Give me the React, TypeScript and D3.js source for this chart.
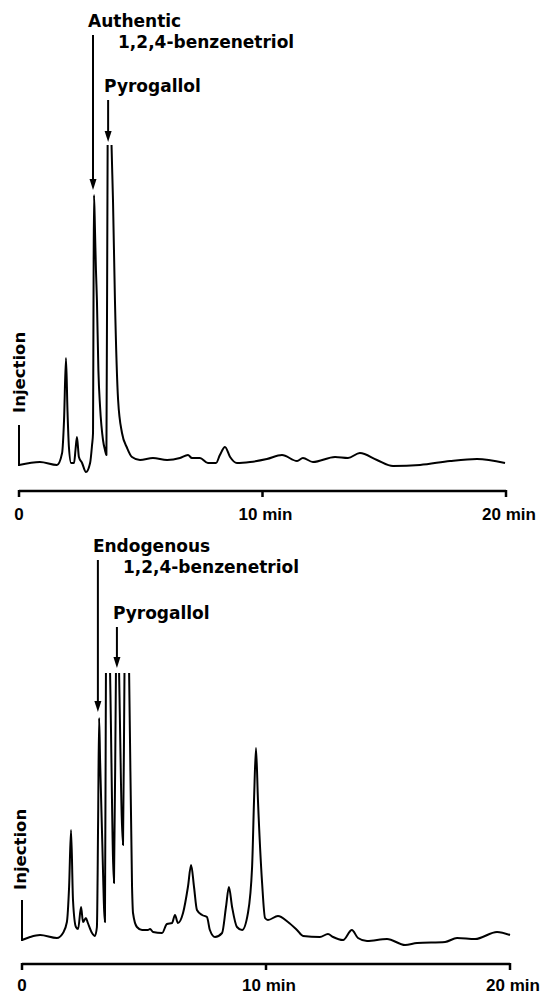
import React from 'react';
import * as d3 from 'd3';

// Retention time (min) and detector response (arbitrary units) — authentic standards
const TOP_TIME = [0, 0.86, 1.56, 1.77, 1.85, 1.93, 1.99, 2.05, 2.14, 2.26, 2.32, 2.38, 2.46, 2.59, 2.75, 2.92, 3.0, 3.04, 3.06, 3.08, 3.12, 3.16, 3.2, 3.26, 3.33, 3.45, 3.53, 3.59, 3.64, 3.72, 3.8, 3.86, 3.94, 4.07, 4.23, 4.44, 4.64, 4.97, 5.5, 6.08, 6.61, 6.94, 7.1, 7.43, 7.76, 8.09, 8.25, 8.46, 8.67, 8.95, 9.49, 10.18, 10.8, 11.42, 11.66, 12.07, 12.98, 13.51, 14.0, 14.7, 15.36, 16.47, 17.7, 18.81, 19.96];
const TOP_SIGNAL = [-2, 1, -2, 10, 43, 105, 53, 16, 0, 0, 13, 26, 6, 0, -9, 0, 18, 30, 163, 268, 233, 193, 163, 93, 56, 23, 13, 8, 318, 430, 318, 263, 163, 63, 30, 15, 6, 3, 5, 3, 5, 8, 5, 5, 0, 0, 8, 16, 6, 0, 1, 4, 8, 2, 5, 1, 6, 5, 10, 3, -3, -2, 2, 4, 0];

// Endogenous sample
const BOTTOM_TIME = [0, 0.33, 0.74, 1.43, 1.68, 1.84, 1.93, 2.01, 2.09, 2.21, 2.3, 2.42, 2.5, 2.62, 2.7, 2.87, 2.99, 3.07, 3.12, 3.16, 3.2, 3.28, 3.4, 3.44, 3.52, 3.61, 3.77, 3.85, 3.91, 3.98, 4.14, 4.2, 4.28, 4.39, 4.51, 4.55, 4.71, 4.92, 5.16, 5.25, 5.37, 5.74, 5.94, 6.15, 6.27, 6.39, 6.6, 6.8, 6.93, 7.05, 7.17, 7.38, 7.58, 7.7, 7.91, 8.2, 8.36, 8.48, 8.61, 8.81, 9.02, 9.26, 9.43, 9.51, 9.59, 9.67, 9.84, 9.96, 10.08, 10.49, 10.9, 11.27, 11.52, 12.21, 12.54, 12.75, 13.16, 13.52, 13.77, 14.14, 14.96, 15.7, 16.19, 17.34, 17.83, 18.57, 19.47, 20.0];
const BOTTOM_SIGNAL = [-2, 1, 3, 0, 5, 16, 51, 108, 38, 11, 9, 31, 16, 20, 15, 5, 2, 11, 118, 220, 178, 105, 16, 265, 378, 265, 55, 265, 370, 265, 93, 265, 380, 265, 51, 25, 11, 8, 8, 9, 6, 5, 14, 15, 23, 15, 25, 51, 73, 51, 28, 23, 21, 8, 1, 5, 31, 51, 31, 11, 8, 25, 71, 138, 190, 138, 55, 20, 18, 22, 16, 8, 2, 1, 4, 1, -2, 8, 0, -3, -1, -7, -5, -4, 0, -1, 6, 3];

const AXIS_TICKS = [0, 10, 20];
const AXIS_TICK_LABELS = ['0', '10 min', '20 min'];
const INJECTION_SIGNAL = 38;

const TOP_LABELS = ['Authentic', '1,2,4-benzenetriol', 'Pyrogallol'];
const BOTTOM_LABELS = ['Endogenous', '1,2,4-benzenetriol', 'Pyrogallol'];

// arrows: [time, from signal, to signal]
const TOP_ARROWS = [[3.04, 428, 273], [3.66, 363, 321]];
const BOTTOM_ARROWS = [[3.11, 378, 226], [3.89, 311, 270]];

const LABEL_FONT = '"DejaVu Sans", sans-serif';
const AXIS_FONT = '"Liberation Sans", Arial, sans-serif';

type PanelProps = {
  id: string;
  time: number[];
  signal: number[];
  labels: string[];
  arrows: number[][];
  xRange: [number, number];
  yBase: number;
  yClip: number;
  clipSignal: number;
  axisY: number;
  tickLabelY: number;
  injLabel: [number, number];
};

function Panel(p: PanelProps) {
  const x = d3.scaleLinear().domain([0, 20]).range(p.xRange);
  const y = d3.scaleLinear().domain([0, p.clipSignal]).range([p.yBase, p.yClip]);
  const pts = p.time.map((t, i) => [t, p.signal[i]] as [number, number]);
  const line = d3
    .line<[number, number]>()
    .x((d) => x(d[0]))
    .y((d) => y(d[1]))
    .curve(d3.curveMonotoneX);
  const path = line(pts) || '';

  const arrow = (a: number[], key: string) => {
    const ax = x(a[0]);
    const y1 = y(a[1]);
    const y2 = y(a[2]);
    return (
      <g key={key}>
        <line x1={ax} x2={ax} y1={y1} y2={y2 - 9} stroke="#000" strokeWidth={2} />
        <path d={`M${ax - 3.5},${y2 - 11} L${ax + 3.5},${y2 - 11} L${ax},${y2} Z`} fill="#000" />
      </g>
    );
  };

  const a0 = p.arrows[0];
  const a1 = p.arrows[1];
  const a0x = x(a0[0]);
  const a0y = y(a0[1]);
  const a1x = x(a1[0]);
  const a1y = y(a1[1]);

  return (
    <g>
      <defs>
        <clipPath id={`clip-${p.id}`}>
          <rect x={0} y={p.yClip} width={542} height={p.yBase - p.yClip + 40} />
        </clipPath>
      </defs>
      <path d={path} fill="none" stroke="#000" strokeWidth={2} strokeLinejoin="round" clipPath={`url(#clip-${p.id})`} />
      {/* injection mark */}
      <line x1={x(0)} x2={x(0)} y1={y(p.signal[0]) + 1} y2={y(INJECTION_SIGNAL)} stroke="#000" strokeWidth={2} />
      <text
        transform={`translate(${p.injLabel[0]},${p.injLabel[1]}) rotate(-90)`}
        fontFamily={LABEL_FONT}
        fontWeight={700}
        fontSize={16.5}
        fill="#000"
      >
        Injection
      </text>
      {/* annotations */}
      {arrow(a0, 'a0')}
      {arrow(a1, 'a1')}
      <g fontFamily={LABEL_FONT} fontWeight={700} fontSize={17} fill="#000">
        <text x={a0x - 5} y={a0y - 8}>{p.labels[0]}</text>
        <text x={a0x + 25} y={a0y + 13}>{p.labels[1]}</text>
        <text x={a1x - 4} y={a1y - 8}>{p.labels[2]}</text>
      </g>
      {/* time axis */}
      <line x1={x(0)} x2={x(20)} y1={p.axisY} y2={p.axisY} stroke="#000" strokeWidth={2.5} />
      {AXIS_TICKS.map((t, i) => (
        <g key={t}>
          <line x1={x(t)} x2={x(t)} y1={p.axisY - 1} y2={p.axisY + 6} stroke="#000" strokeWidth={2.5} />
          <text
            x={x(t) + (i === 0 ? 0 : 3)}
            y={p.tickLabelY}
            textAnchor="middle"
            fontFamily={AXIS_FONT}
            fontWeight={700}
            fontSize={17}
            fill="#000"
          >
            {AXIS_TICK_LABELS[i]}
          </text>
        </g>
      ))}
    </g>
  );
}

export default function App() {
  return (
    <svg
      width={542}
      height={995}
      viewBox="0 0 542 995"
      style={{ position: 'absolute', left: 0, top: 0, background: '#fff' }}
    >
      <rect x={0} y={0} width={542} height={995} fill="#fff" />
      <Panel
        id="top"
        time={TOP_TIME}
        signal={TOP_SIGNAL}
        labels={TOP_LABELS}
        arrows={TOP_ARROWS}
        xRange={[19, 506]}
        yBase={463}
        yClip={145}
        clipSignal={318}
        axisY={491}
        tickLabelY={520}
        injLabel={[25, 413]}
      />
      <Panel
        id="bottom"
        time={BOTTOM_TIME}
        signal={BOTTOM_SIGNAL}
        labels={BOTTOM_LABELS}
        arrows={BOTTOM_ARROWS}
        xRange={[22, 510]}
        yBase={938}
        yClip={673}
        clipSignal={265}
        axisY={964}
        tickLabelY={991}
        injLabel={[26, 890]}
      />
    </svg>
  );
}
